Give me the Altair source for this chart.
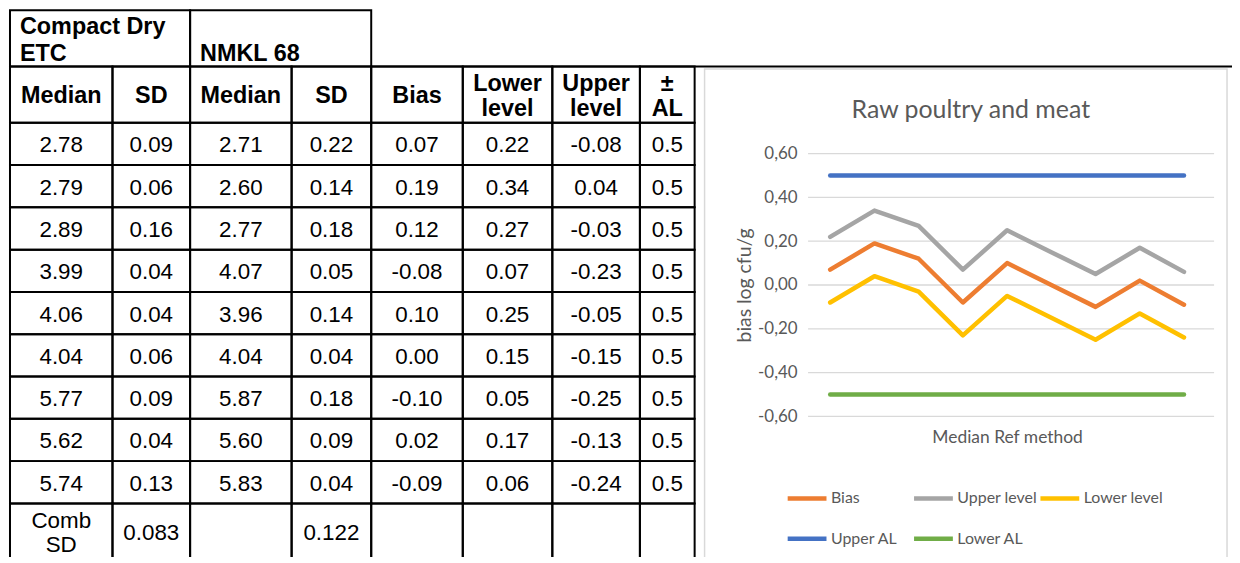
import altair as alt
import pandas as pd

# ---------------- data ----------------
ETC_MEDIAN = [2.78, 2.79, 2.89, 3.99, 4.06, 4.04, 5.77, 5.62, 5.74]
ETC_SD = [0.09, 0.06, 0.16, 0.04, 0.04, 0.06, 0.09, 0.04, 0.13]
NMKL_MEDIAN = [2.71, 2.60, 2.77, 4.07, 3.96, 4.04, 5.87, 5.60, 5.83]
NMKL_SD = [0.22, 0.14, 0.18, 0.05, 0.14, 0.04, 0.18, 0.09, 0.04]
BIAS = [0.07, 0.19, 0.12, -0.08, 0.10, 0.00, -0.10, 0.02, -0.09]
LOWER_LEVEL = [0.22, 0.34, 0.27, 0.07, 0.25, 0.15, 0.05, 0.17, 0.06]
UPPER_LEVEL = [-0.08, 0.04, -0.03, -0.23, -0.05, -0.15, -0.25, -0.13, -0.24]
AL = [0.5, 0.5, 0.5, 0.5, 0.5, 0.5, 0.5, 0.5, 0.5]
LOWER_AL = [-0.5, -0.5, -0.5, -0.5, -0.5, -0.5, -0.5, -0.5, -0.5]
COMB_SD_ETC = "0.083"
COMB_SD_NMKL = "0.122"

GROUP_HEADERS = ["Compact Dry\nETC", "NMKL 68"]
COLUMN_HEADERS = ["Median", "SD", "Median", "SD", "Bias", "Lower\nlevel", "Upper\nlevel", "±\nAL"]
LAST_ROW = ["Comb\nSD", COMB_SD_ETC, "", COMB_SD_NMKL, "", "", "", ""]

CHART_TITLE = "Raw poultry and meat"
Y_TITLE = "bias log cfu/g"
X_TITLE = "Median Ref method"
SERIES = ["Bias", "Upper level", "Lower level", "Upper AL", "Lower AL"]
# in the chart the "Upper level" series is the table's "Lower level" column and vice versa
SERIES_VALUES = [BIAS, LOWER_LEVEL, UPPER_LEVEL, AL, LOWER_AL]
Y_TICKS = [-0.6, -0.4, -0.2, 0.0, 0.2, 0.4, 0.6]

# ---------------- styles / layout ----------------
COLORS = ["#ED7D31", "#A5A5A5", "#FFC000", "#4472C4", "#70AD47"]
GREY_TEXT = "#595959"
GRID = "#D9D9D9"
TABLE_FONT = "Liberation Sans"
CHART_FONT = "Lato"

W, H = 1230, 549
TABLE_X0 = 2
COL_W = [103, 78, 102, 80, 92, 90, 88, 55]
col_edges = [TABLE_X0]
for w in COL_W:
    col_edges.append(col_edges[-1] + w)
ROW_H = 42.5
row_edges = [1, 57.5, 114]
for _ in range(9):
    row_edges.append(row_edges[-1] + ROW_H)
row_edges.append(row_edges[-1] + 66)

PLOT_X0, PLOT_X1 = 804, 1204
PLOT_Y_BOTTOM, PLOT_Y_TOP = 409, 145
FRAME = (700, 1225, 60, 620)


def first_line(center_baseline, label, lh):
    n = label.count("\n") + 1
    return center_baseline - (n - 1) * lh / 2


# ---------------- table data frames ----------------
fmt = lambda v: f"{v:.2f}"
body_rows = []
for i in range(9):
    body_rows.append([fmt(ETC_MEDIAN[i]), fmt(ETC_SD[i]), fmt(NMKL_MEDIAN[i]), fmt(NMKL_SD[i]),
                      fmt(BIAS[i]), fmt(LOWER_LEVEL[i]), fmt(UPPER_LEVEL[i]), f"{AL[i]:.1f}"])

cells = [
    dict(x0=col_edges[0], x1=col_edges[2], y0=row_edges[0], y1=row_edges[1]),
    dict(x0=col_edges[2], x1=col_edges[4], y0=row_edges[0], y1=row_edges[1]),
]
for r in range(1, len(row_edges) - 1):
    for c in range(8):
        cells.append(dict(x0=col_edges[c], x1=col_edges[c + 1], y0=row_edges[r], y1=row_edges[r + 1]))
cells_df = pd.DataFrame(cells)

GH_LH = 27
group_df = pd.DataFrame([
    dict(x=col_edges[0] + 10, y=row_edges[1] - 6 - (GROUP_HEADERS[0].count("\n")) * GH_LH, label=GROUP_HEADERS[0]),
    dict(x=col_edges[2] + 10, y=row_edges[1] - 6 - (GROUP_HEADERS[1].count("\n")) * GH_LH, label=GROUP_HEADERS[1]),
])
HEAD_LH = 25.7
head_df = pd.DataFrame([
    dict(x=(col_edges[c] + col_edges[c + 1]) / 2,
         y=first_line(row_edges[1] + 37, COLUMN_HEADERS[c], HEAD_LH), label=COLUMN_HEADERS[c])
    for c in range(8)
])
BODY_LH = 24
body = []
for r in range(9):
    for c in range(8):
        body.append(dict(x=(col_edges[c] + col_edges[c + 1]) / 2, y=row_edges[r + 2] + 29.7,
                         label=body_rows[r][c]))
for c in range(8):
    body.append(dict(x=(col_edges[c] + col_edges[c + 1]) / 2,
                     y=first_line(row_edges[11] + 37, LAST_ROW[c], BODY_LH), label=LAST_ROW[c]))
body_df = pd.DataFrame(body)

tx = alt.Scale(domain=[0, W], range=[0, W], nice=False, zero=False)
ty = alt.Scale(domain=[0, H], range=[0, H], nice=False, zero=False)

one = pd.DataFrame({"k": [0]})

frame = alt.Chart(one).mark_rect(fill="white", fillOpacity=0, stroke=GRID, strokeWidth=1.5).encode(
    x=alt.value(FRAME[0]), x2=alt.value(FRAME[1]), y=alt.value(FRAME[2]), y2=alt.value(FRAME[3]))
top_line = alt.Chart(one).mark_rule(color="black", strokeWidth=2).encode(
    x=alt.value(col_edges[4]), x2=alt.value(W), y=alt.value(row_edges[1]))

cell_layer = alt.Chart(cells_df).mark_rect(fill="white", fillOpacity=0, stroke="black", strokeWidth=2).encode(
    x=alt.X("x0:Q", scale=tx, axis=None), x2="x1:Q",
    y=alt.Y("y0:Q", scale=ty, axis=None), y2="y1:Q")

group_text = alt.Chart(group_df).mark_text(
    font=TABLE_FONT, fontSize=23.5, fontWeight="bold", color="black", align="left",
    baseline="alphabetic", lineBreak="\n", lineHeight=GH_LH).encode(
    x=alt.X("x:Q", scale=tx, axis=None), y=alt.Y("y:Q", scale=ty, axis=None), text="label:N")

head_text = alt.Chart(head_df).mark_text(
    font=TABLE_FONT, fontSize=23.5, fontWeight="bold", color="black", align="center",
    baseline="alphabetic", lineBreak="\n", lineHeight=HEAD_LH).encode(
    x=alt.X("x:Q", scale=tx, axis=None), y=alt.Y("y:Q", scale=ty, axis=None), text="label:N")

body_text = alt.Chart(body_df).mark_text(
    font=TABLE_FONT, fontSize=22.5, color="black", align="center",
    baseline="alphabetic", lineBreak="\n", lineHeight=BODY_LH).encode(
    x=alt.X("x:Q", scale=tx, axis=None), y=alt.Y("y:Q", scale=ty, axis=None), text="label:N")

# ---------------- line chart ----------------
ys = alt.Scale(domain=[-0.6, 0.6], range=[PLOT_Y_BOTTOM, PLOT_Y_TOP], nice=False, zero=False)
xs = alt.Scale(type="point", domain=list(range(1, 10)), range=[PLOT_X0, PLOT_X1], padding=0.5)

grid = alt.Chart(pd.DataFrame({"v": Y_TICKS})).mark_rule(color=GRID, strokeWidth=1.3).encode(
    y=alt.Y("v:Q", scale=ys, axis=None), x=alt.value(PLOT_X0), x2=alt.value(PLOT_X1 + 8))

long = []
for name, vals in zip(SERIES, SERIES_VALUES):
    for i, v in enumerate(vals):
        long.append(dict(sample=i + 1, series=name, value=v))
long_df = pd.DataFrame(long)

label_expr = "(datum.value < -0.001 ? '-' : '') + replace(format(abs(datum.value), '.2f'), '.', ',')"

lines = alt.Chart(long_df).mark_line(strokeWidth=4.5, strokeCap="round", strokeJoin="round").encode(
    x=alt.X("sample:O", scale=xs, axis=alt.Axis(
        orient="bottom", offset=-(H - PLOT_Y_BOTTOM), labels=False, ticks=False, domain=False, grid=False,
        title=X_TITLE, titleFont=CHART_FONT, titleFontSize=17.5, titleFontWeight="normal",
        titleColor=GREY_TEXT, titlePadding=12, zindex=2)),
    y=alt.Y("value:Q", scale=ys, axis=alt.Axis(
        orient="left", offset=-PLOT_X0, values=Y_TICKS, labelExpr=label_expr, labelFont=CHART_FONT,
        labelFontSize=17, labelColor=GREY_TEXT, labelPadding=11, ticks=False, domain=False, grid=False,
        title=Y_TITLE, titleFont=CHART_FONT, titleFontSize=19.5, titleFontWeight="normal",
        titleColor=GREY_TEXT, titleX=-54, titleY=(PLOT_Y_BOTTOM + PLOT_Y_TOP) / 2, zindex=2)),
    color=alt.Color("series:N", scale=alt.Scale(domain=SERIES, range=COLORS), legend=alt.Legend(
        title=None, orient="none", legendX=781, legendY=469.5, direction="horizontal", columns=3,
        gridAlign="all", symbolType="stroke", symbolSize=1521, symbolStrokeWidth=4.5,
        labelFont=CHART_FONT, labelFontSize=16, labelColor=GREY_TEXT, labelOffset=2,
        columnPadding=-9, rowPadding=9.5)),
    detail="series:N",
)

title_text = alt.Chart(pd.DataFrame({"label": [CHART_TITLE]})).mark_text(
    font=CHART_FONT, fontSize=25, color=GREY_TEXT, align="center", baseline="alphabetic").encode(
    x=alt.value((FRAME[0] + FRAME[1]) / 2 + 5), y=alt.value(109), text="label:N")

chart = alt.layer(
    frame, top_line, cell_layer, group_text, head_text, body_text, grid, lines, title_text
).resolve_scale(x="independent", y="independent").properties(
    width=W, height=H, padding=0, background="white",
    autosize=alt.AutoSizeParams(type="none"),
).configure_view(strokeWidth=0)

chart.save("out.html", embed_options={"renderer": "svg", "actions": False})
